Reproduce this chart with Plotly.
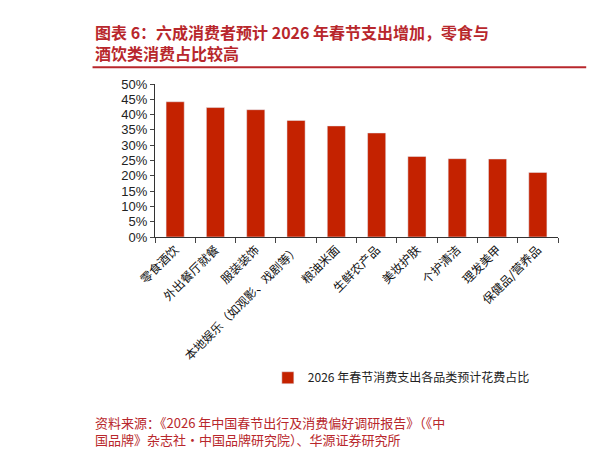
import plotly.graph_objects as go

categories = ["零食酒饮", "外出餐厅就餐", "服装装饰", "本地娱乐（如观影、戏剧等）", "粮油米面",
              "生鲜农产品", "美妆护肤", "个护清洁", "理发美甲", "保健品/营养品"]
shares = [44.2, 42.3, 41.6, 38.1, 36.3, 34.0, 26.3, 25.6, 25.5, 21.1]
series_name = "2026 年春节消费支出各品类预计花费占比"
tick_vals = [0, 5, 10, 15, 20, 25, 30, 35, 40, 45, 50]
tick_text = [f"{v}%" for v in tick_vals]

RED = "#c42200"
TITLE_RED = "#b8272c"

fig = go.Figure()
fig.add_trace(go.Bar(x=categories, y=shares, name=series_name,
                     marker=dict(color=RED), width=0.45))

fig.update_layout(
    width=614, height=457,
    paper_bgcolor="white", plot_bgcolor="white",
    margin=dict(l=147, r=64, t=76, b=228),
    font=dict(family="Liberation Sans, Arial", size=13, color="#222"),
    showlegend=True,
    legend=dict(x=0.28, y=-0.92, xanchor="left", yanchor="middle",
                font=dict(family="Noto Sans CJK SC", size=12, color="#222")),
    xaxis=dict(showline=True, linecolor="#333", ticks="outside", ticklen=5,
               tickangle=-45, tickson="boundaries",
               tickfont=dict(family="Noto Sans CJK SC", size=12, color="#111")),
    yaxis=dict(range=[0, 50], tickvals=tick_vals, ticktext=tick_text,
               showline=True, linecolor="#333", ticks="outside", ticklen=4,
               showgrid=False, zeroline=False,
               tickfont=dict(size=13, color="#222")),
)

# title block
fig.add_annotation(text="<b>图表 6：六成消费者预计 2026 年春节支出增加，零食与<br>酒饮类消费占比较高</b>",
                   xref="paper", yref="paper", x=-0.155, y=1.27, xanchor="left", yanchor="middle",
                   align="left", showarrow=False,
                   font=dict(family="Noto Sans CJK SC", size=16, color=TITLE_RED))
fig.add_shape(type="line", xref="paper", yref="paper", x0=-0.155, x1=1.07, y0=1.11, y1=1.11,
              line=dict(color=TITLE_RED, width=2))
# source note
fig.add_annotation(text="资料来源：《2026 年中国春节出行及消费偏好调研报告》（《中<br>国品牌》杂志社・中国品牌研究院）、华源证券研究所",
                   xref="paper", yref="paper", x=-0.155, y=-1.27, xanchor="left", yanchor="middle",
                   align="left", showarrow=False,
                   font=dict(family="Noto Sans CJK SC", size=13, color=TITLE_RED))

fig.write_html("out.html")
